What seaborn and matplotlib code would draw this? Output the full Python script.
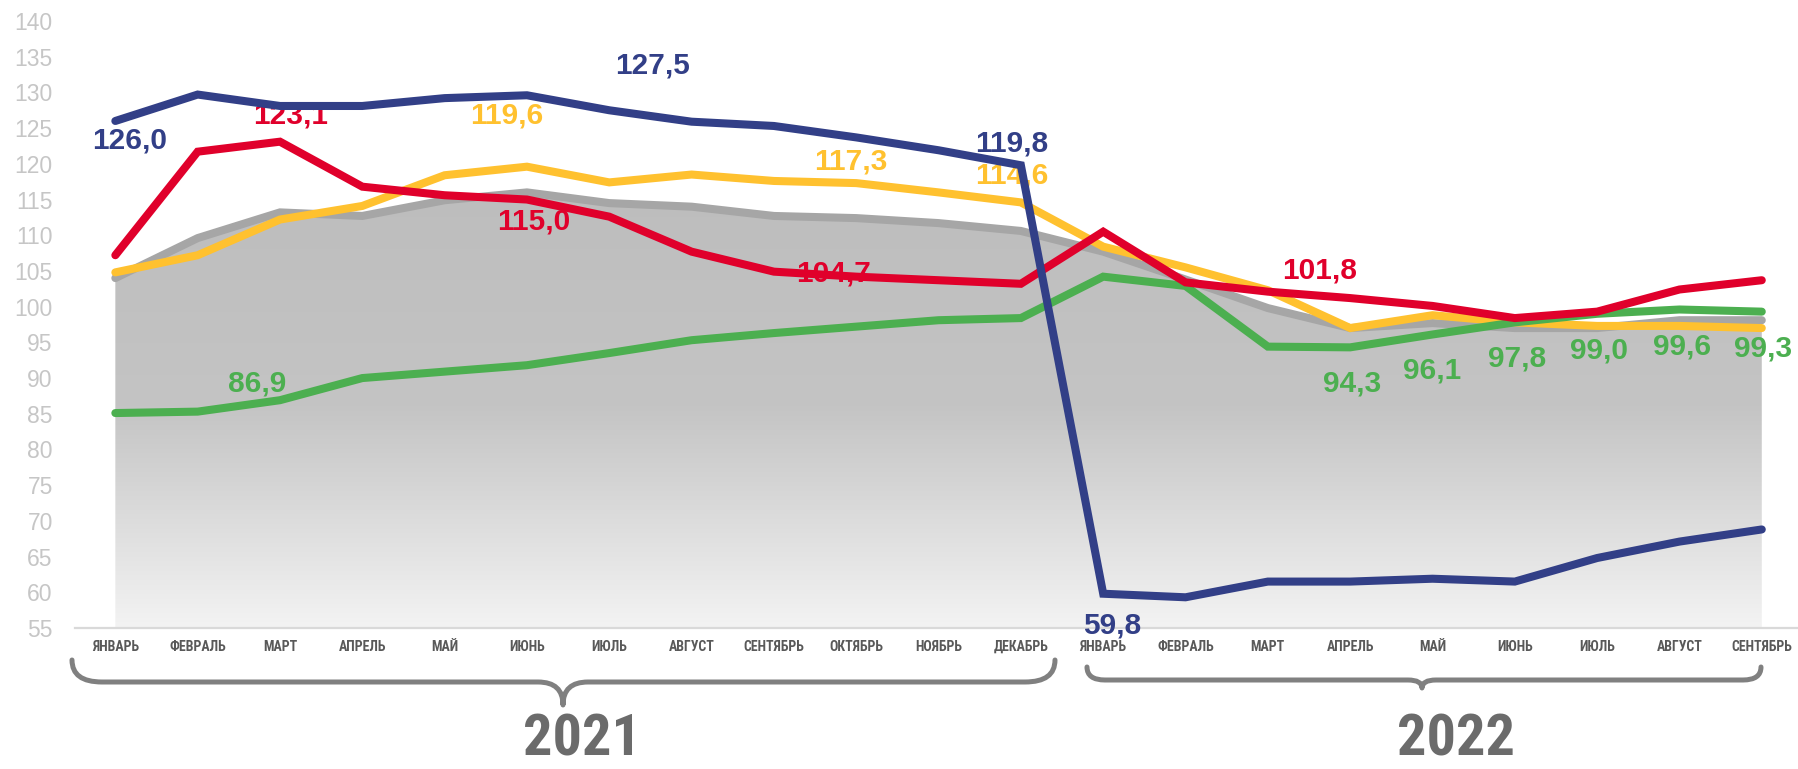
import numpy as np
import pandas as pd
import matplotlib
matplotlib.use("Agg")
import matplotlib.pyplot as plt
import seaborn as sns
from matplotlib.path import Path
from matplotlib.patches import PathPatch
from matplotlib.colors import LinearSegmentedColormap
from matplotlib import font_manager

# ---------------- data ----------------
months = ["ЯНВАРЬ", "ФЕВРАЛЬ", "МАРТ", "АПРЕЛЬ", "МАЙ", "ИЮНЬ", "ИЮЛЬ", "АВГУСТ",
          "СЕНТЯБРЬ", "ОКТЯБРЬ", "НОЯБРЬ", "ДЕКАБРЬ",
          "ЯНВАРЬ", "ФЕВРАЛЬ", "МАРТ", "АПРЕЛЬ", "МАЙ", "ИЮНЬ", "ИЮЛЬ", "АВГУСТ", "СЕНТЯБРЬ"]
years = ["2021", "2022"]
yticks = list(range(55, 141, 5))

blue_vals = [126.0, 129.7, 128.1, 128.1, 129.2, 129.6, 127.5, 125.9, 125.3, 123.7, 121.9, 119.8,
             59.8, 59.3, 61.5, 61.5, 61.9, 61.5, 64.8, 67.1, 68.8]
red_vals = [107.2, 121.7, 123.1, 116.8, 115.6, 115.0, 112.6, 107.7, 104.9, 104.2, 103.7, 103.2,
            110.5, 103.4, 102.1, 101.2, 100.1, 98.4, 99.3, 102.4, 103.7]
yellow_vals = [104.8, 107.2, 112.2, 114.1, 118.4, 119.6, 117.4, 118.5, 117.6, 117.3, 116.0, 114.6,
               108.4, 105.5, 102.3, 97.0, 98.8, 97.8, 97.3, 97.3, 97.0]
grey_vals = [104.0, 109.6, 113.2, 112.7, 114.9, 116.0, 114.5, 114.0, 112.7, 112.4, 111.7, 110.6,
             107.7, 103.8, 99.8, 97.0, 97.7, 97.0, 97.0, 98.1, 98.1]
green_vals = [85.1, 85.3, 86.9, 90.0, 90.9, 91.8, 93.5, 95.3, 96.3, 97.2, 98.1, 98.4,
              104.2, 102.9, 94.4, 94.3, 96.1, 97.8, 99.0, 99.6, 99.3]

label_texts = ["126,0", "123,1", "119,6", "115,0", "127,5", "117,3", "119,8", "114,6",
               "104,7", "101,8", "86,9", "59,8", "94,3", "96,1", "97,8", "99,0", "99,6", "99,3"]
label_series = ["blue", "red", "yellow", "red", "blue", "yellow", "blue", "yellow",
                "red", "red", "green", "blue", "green", "green", "green", "green", "green", "green"]

# ---------------- style ----------------
colors = {"blue": "#323F87", "red": "#E0002B", "yellow": "#FFC12F",
          "green": "#4CAF50", "grey": "#A6A6A6"}

sns.set_theme(style="white")
names = {f.name for f in font_manager.fontManager.ttflist}
narrow = "Liberation Sans"
for cand in ["Liberation Sans Narrow", "Arial Narrow", "Roboto Condensed",
             "Open Sans Condensed", "Noto Sans Condensed"]:
    if cand in names:
        narrow = cand
        break
is_narrow = narrow != "Liberation Sans"
plt.rcParams["font.family"] = ["Liberation Sans", "DejaVu Sans"]

W, H = 1798, 769
fig = plt.figure(figsize=(W / 100, H / 100), dpi=100)
ax = fig.add_axes([75 / W, 1 - 628 / H, 1 - 75 / W, (628 - 21) / H])

x = np.arange(len(months))
df = pd.DataFrame({"x": x, "blue": blue_vals, "red": red_vals, "yellow": yellow_vals,
                   "grey": grey_vals, "green": green_vals})

# gradient area under grey series
poly = ax.fill_between(df["x"], df["grey"], 55, color="none", lw=0)
grad = np.linspace(0, 1, 256).reshape(-1, 1)
cmap = LinearSegmentedColormap.from_list("g", ["#BDBDBD", "#C4C4C4", "#F3F3F3"])
im = ax.imshow(grad, extent=[0, len(months) - 1, 55, 117], origin="upper",
               aspect="auto", cmap=cmap, zorder=1, interpolation="bilinear")
im.set_clip_path(poly.get_paths()[0], transform=ax.transData)

order = [("grey", 2), ("yellow", 4), ("green", 5), ("red", 6), ("blue", 7)]
for name, z in order:
    sns.lineplot(data=df, x="x", y=name, ax=ax, color=colors[name], lw=5.8,
                 zorder=z, solid_capstyle="round", solid_joinstyle="miter", legend=False)

# data labels (positions in data coordinates)
label_pos = [(0.17, 123.3), (2.13, 126.8), (4.76, 126.7), (5.08, 111.9), (6.53, 133.8),
             (8.93, 120.3), (10.89, 122.8), (10.89, 118.4), (8.72, 104.7), (14.63, 105.1),
             (1.72, 89.3), (12.11, 55.4), (15.02, 89.3), (16.0, 91.0), (17.03, 92.7),
             (18.02, 93.9), (19.03, 94.4), (20.01, 94.2)]
for t, s, (lx, ly) in zip(label_texts, label_series, label_pos):
    ax.text(lx, ly, t, ha="center", va="center", fontsize=21.5, fontweight="bold",
            color=colors[s], zorder=3, clip_on=False)

ax.set_xlim(-0.49, 20.44)
ax.set_ylim(55, 140)
ax.set_xticks(x)
ax.set_xticklabels(months, family=[narrow, "DejaVu Sans"], fontweight="bold",
                   fontsize=10 if is_narrow else 9, color="#595959")
ax.set_yticks(yticks)
ax.set_yticklabels([str(v) for v in yticks], fontsize=16.5, color="#C6C6C6")
ax.tick_params(axis="x", length=0, pad=8.5)
ax.tick_params(axis="y", length=0, pad=16)
ax.set_xlabel("")
ax.set_ylabel("")
for sp in ["left", "top", "right"]:
    ax.spines[sp].set_visible(False)
ax.spines["bottom"].set_color("#D9D9D9")
ax.spines["bottom"].set_linewidth(1.6)
ax.spines["bottom"].set_zorder(1.5)
ax.grid(False)


def brace(x0, x1, xm, ytop, yh, ytip, r, r2):
    pts = [(x0, ytop), (x0, yh), (x0 + r, yh), (xm - r2, yh), (xm, yh), (xm, ytip),
           (xm, yh), (xm + r2, yh), (x1 - r, yh), (x1, yh), (x1, ytop)]
    codes = [Path.MOVETO, Path.CURVE3, Path.CURVE3, Path.LINETO, Path.CURVE3, Path.CURVE3,
             Path.CURVE3, Path.CURVE3, Path.LINETO, Path.CURVE3, Path.CURVE3]
    pts = [(px / W, 1 - py / H) for px, py in pts]
    return PathPatch(Path(pts, codes), transform=fig.transFigure, fill=False,
                     edgecolor="#808080", lw=3.6, capstyle="round", joinstyle="round")


fig.patches.append(brace(72, 1055, 563, 660, 682, 705, 30, 25))
fig.patches.append(brace(1087, 1761, 1422, 667, 680, 688, 18, 14))

for yr, cx in zip(years, [582, 1456]):
    fig.text(cx / W, 1 - 756 / H, yr, ha="center", va="baseline",
             fontsize=42 if is_narrow else 38,
             fontweight="bold", color="#6B6B6B", family=[narrow, "DejaVu Sans"])

fig.savefig("out.png", dpi=100)
